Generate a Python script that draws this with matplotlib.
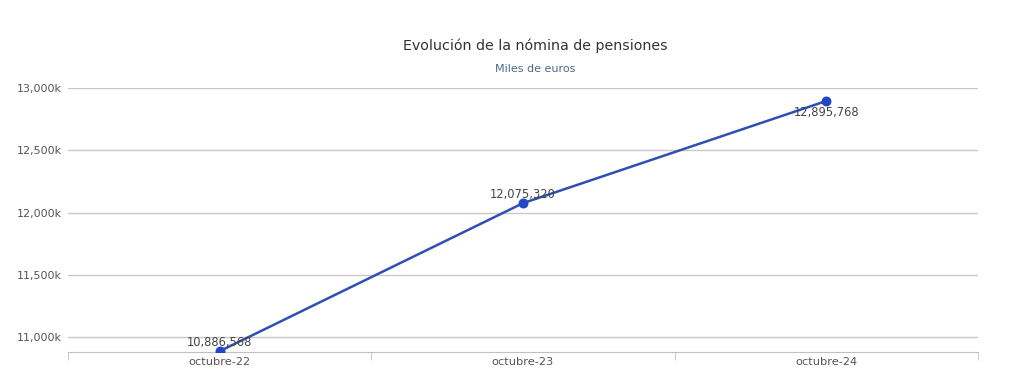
import matplotlib.pyplot as plt
from matplotlib.ticker import FuncFormatter

# data (euros, axis shown in thousands)
categories = ["octubre-22", "octubre-23", "octubre-24"]
values = [10886568, 12075320, 12895768]
y_ticks = [11000000, 11500000, 12000000, 12500000, 13000000]

fig = plt.figure(figsize=(10.1, 3.72), dpi=100)
ax = fig.add_axes([68 / 1010, 1 - 352 / 372, 910 / 1010, 264 / 372])

x = list(range(len(categories)))
ax.plot(x, values, color="#2f4fb5", lw=1.8, zorder=3)
ax.scatter(x, values, s=38, color="#2447c9", zorder=4)

# data labels: first two above the point, last below
offsets = [6.5, 6, -8]
for xi, v, off in zip(x, values, offsets):
    ax.annotate(f"{v:,}", (xi, v), xytext=(0, off), textcoords="offset points",
                ha="center", va="center", fontsize=8.3, color="#444444", zorder=5)

ax.set_xlim(-0.5, len(categories) - 0.5)
ax.set_ylim(10880000, 13000000)
ax.set_yticks(y_ticks)
ax.yaxis.set_major_formatter(FuncFormatter(lambda v, p: f"{v / 1000:,.0f}k"))
ax.yaxis.grid(True, color="#c8c8c8", lw=1)
ax.set_axisbelow(True)

ax.set_xticks(x)
ax.set_xticklabels(categories)
ax.set_xticks([-0.5, 0.5, 1.5, 2.5], minor=True)
ax.tick_params(axis="x", which="major", length=0, pad=3.5, labelsize=8.2, labelcolor="#555555")
ax.tick_params(axis="x", which="minor", length=6, color="#c0c0c0", direction="out")
ax.tick_params(axis="y", length=0, pad=4.5, labelsize=8, labelcolor="#555555")

for s in ["top", "right", "left"]:
    ax.spines[s].set_visible(False)
ax.spines["bottom"].set_color("#c0c0c0")

fig.text(0.53, 1 - 46 / 372, "Evolución de la nómina de pensiones", ha="center", va="center",
         fontsize=10.3, color="#333333")
fig.text(0.53, 1 - 69 / 372, "Miles de euros", ha="center", va="center",
         fontsize=8, color="#4b6a8c")

fig.savefig("out.png", dpi=100)
